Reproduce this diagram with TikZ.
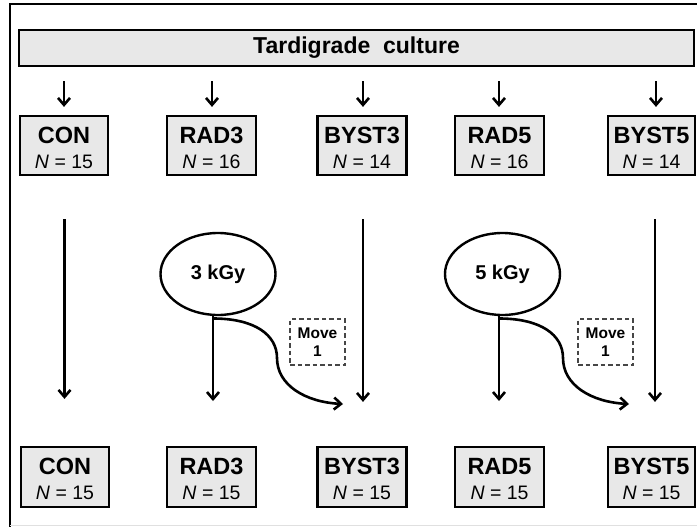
\documentclass[tikz,border=0pt]{standalone}
\usepackage{fontspec}
\setmainfont{Liberation Sans}
\usetikzlibrary{arrows.meta,shapes.geometric}
\definecolor{boxgray}{RGB}{232,232,232}
\definecolor{dashgray}{RGB}{70,70,70}
\newcommand{\grp}[2]{{\fontsize{23.5}{25}\selectfont\bfseries\rule{0pt}{21pt}#1}\\\textit{N} = #2}
\tikzset{
  grpbox/.style={draw, line width=2.2pt, fill=boxgray, inner sep=0pt, align=center, minimum height=59pt, font=\fontsize{19.5}{25}\selectfont},
  titlebar/.style={draw, line width=2.2pt, fill=boxgray, inner sep=0pt, minimum width=675pt, minimum height=36pt, font=\fontsize{23}{26}\selectfont\bfseries},
  dose/.style={draw, ellipse, line width=2.4pt, minimum width=115pt, minimum height=82pt, inner sep=0pt, font=\fontsize{20}{22}\selectfont\bfseries},
  movebox/.style={draw=dashgray, dash pattern=on 4.5pt off 3pt, line width=1.6pt, minimum width=55pt, minimum height=46pt, inner sep=0pt, align=center, font=\fontsize{15.5}{18}\selectfont\bfseries},
  arr/.style={line width=2.6pt, -{Straight Barb[length=7pt,width=12pt,line width=2.6pt]}},
  frameline/.style={line width=2.4pt}
}
\begin{document}
\begin{tikzpicture}[x=1pt,y=-1pt]
\useasboundingbox (0,0) rectangle (697,527);
% frame
\draw[frameline] (10,527) -- (10,4) -- (697,4);
\draw[line width=1pt, black!12] (10,525.5) -- (697,525.5);
% title
\node[titlebar] (title) at (356.5,48) {Tardigrade\ \ culture};
% top boxes
\node[grpbox, minimum width=88pt] (t1) at (64,145.5) {\grp{CON}{15}};
\node[grpbox, minimum width=89pt] (t2) at (211.5,145.5) {\grp{RAD3}{16}};
\node[grpbox, minimum width=89pt] (t3) at (362,145.5) {\grp{BYST3}{14}};
\node[grpbox, minimum width=89pt] (t4) at (499.5,145.5) {\grp{RAD5}{16}};
\node[grpbox, minimum width=87pt] (t5) at (651.5,145.5) {\grp{BYST5}{14}};
% bottom boxes
\node[grpbox, minimum width=88pt, minimum height=60pt] (b1) at (65,477) {\grp{CON}{15}};
\node[grpbox, minimum width=89pt, minimum height=60pt] (b2) at (211.5,477) {\grp{RAD3}{15}};
\node[grpbox, minimum width=89pt, minimum height=60pt] (b3) at (362,477) {\grp{BYST3}{15}};
\node[grpbox, minimum width=89pt, minimum height=60pt] (b4) at (499.5,477) {\grp{RAD5}{15}};
\node[grpbox, minimum width=87pt, minimum height=60pt] (b5) at (651.5,477) {\grp{BYST5}{15}};
% short arrows from title
\foreach \i/\x in {1/64,2/212,3/363,4/499,5/656}{
  \draw[arr, shorten <=14pt, shorten >=8pt] (title.south -| \x,0) -- (t\i.north -| \x,0);
}
% long arrows
\draw[arr, shorten <=43pt, shorten >=47pt] (t1.south -| 64.5,0) -- (b1.north -| 64.5,0);
\draw[arr, shorten <=43pt, shorten >=44pt] (t3.south -| 363,0) -- (b3.north -| 363,0);
\draw[arr, shorten <=43pt, shorten >=44pt] (t5.south -| 655,0) -- (b5.north -| 655,0);
% doses
\node[dose] (e3) at (218,274) {3 kGy};
\node[dose] (e5) at (502.5,274) {5 kGy};
\coordinate (s3) at (213,318.5);
\coordinate (s5) at (499,318.5);
\coordinate (d3) at (213,401);
\coordinate (d5) at (499,401);
\coordinate (m3) at (343,404);
\coordinate (m5) at (629,404);
\draw[line width=2.6pt] (e3.south -| s3) -- (s3);
\draw[line width=2.6pt] (e5.south -| s5) -- (s5);
\draw[arr] (s3) -- (d3);
\draw[arr] (s5) -- (d5);
\draw[arr] (s3) .. controls (255,318.5) and (277,335) .. (277,358) .. controls (277,385) and (305,402) .. (m3);
\draw[arr] (s5) .. controls (541,318.5) and (563,335) .. (563,358) .. controls (563,385) and (591,402) .. (m5);
% move boxes
\node[movebox] (mv3) at (317.5,342) {Move\\1};
\node[movebox] (mv5) at (605.5,342) {Move\\1};
\end{tikzpicture}
\end{document}
